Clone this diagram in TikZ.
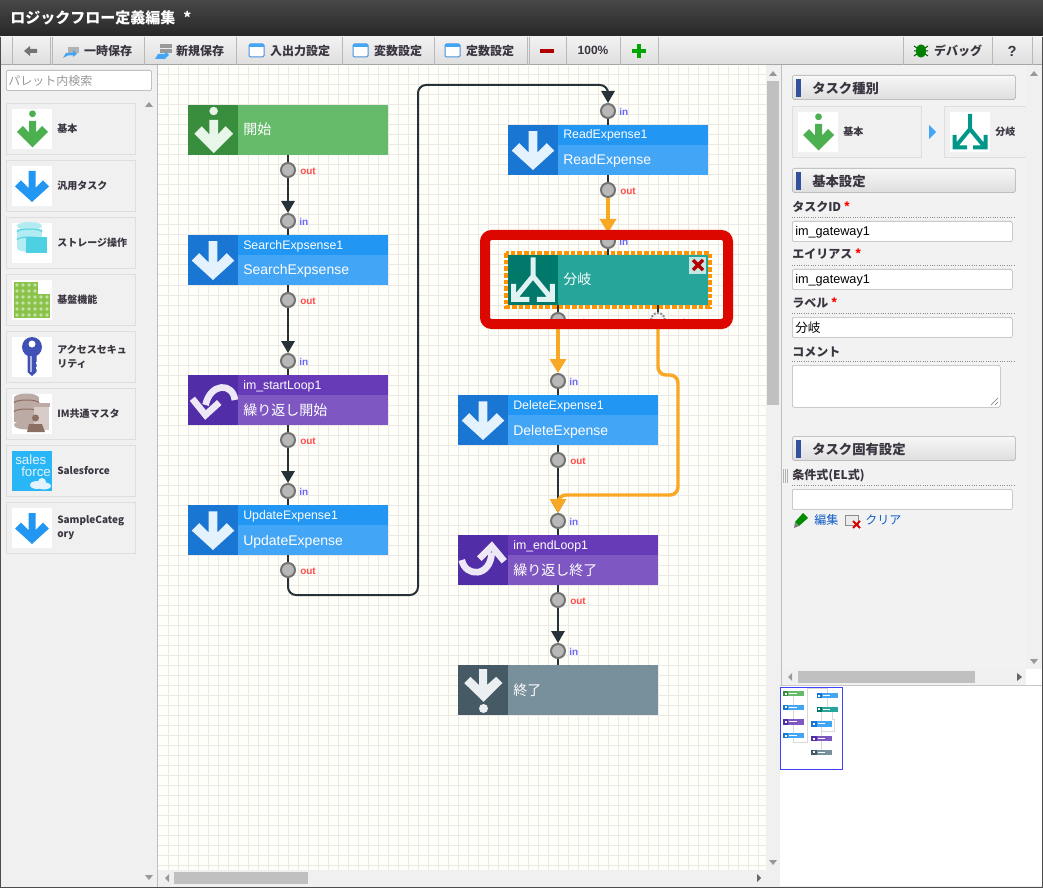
\documentclass[tikz,border=0pt]{standalone}
\usepackage{fontspec}
\setmainfont{Liberation Sans}
\newfontfamily\cjk{Noto Sans CJK JP}
\usetikzlibrary{arrows.meta}

\definecolor{flowdark}{HTML}{263238}
\definecolor{floworange}{HTML}{F9A825}
\definecolor{framered}{HTML}{DC0800}
\definecolor{gridgray}{HTML}{ECE8E6}
\definecolor{panelgray}{HTML}{F0F0F0}
\definecolor{inkgray}{HTML}{3A3540}
\definecolor{thumbgray}{HTML}{C0C0C0}
\definecolor{linkblue}{HTML}{0F5CC8}
\definecolor{greenA}{HTML}{388E3C}
\definecolor{greenB}{HTML}{66BB6A}
\definecolor{greenC}{HTML}{4CAF50}
\definecolor{greenT}{HTML}{E8F5E9}
\definecolor{blueA}{HTML}{1976D2}
\definecolor{blueB}{HTML}{2196F3}
\definecolor{blueC}{HTML}{42A5F5}
\definecolor{blueT}{HTML}{E3F2FD}
\definecolor{purpleA}{HTML}{512DA8}
\definecolor{purpleB}{HTML}{673AB7}
\definecolor{purpleC}{HTML}{7E57C2}
\definecolor{purpleT}{HTML}{EDE7F6}
\definecolor{tealA}{HTML}{00796B}
\definecolor{tealB}{HTML}{26A69A}
\definecolor{tealC}{HTML}{009688}
\definecolor{tealT}{HTML}{E0F2F1}
\definecolor{slateA}{HTML}{455A64}
\definecolor{slateB}{HTML}{78909C}
\definecolor{slateT}{HTML}{ECEFF1}
\definecolor{limeA}{HTML}{8BC34A}
\definecolor{limeT}{HTML}{C5E1A5}
\definecolor{keyblue}{HTML}{3F51B5}
\definecolor{skyA}{HTML}{29B6F6}
\definecolor{cyanA}{HTML}{B2EBF2}
\definecolor{cyanB}{HTML}{4DD0E1}
\definecolor{earthA}{HTML}{BCAAA4}
\definecolor{earthB}{HTML}{8D6E63}
\definecolor{earthC}{HTML}{D7CCC8}
\definecolor{barblue}{HTML}{34519C}

\tikzset{
  flowline/.style={draw=flowdark,line width=1.5pt,rounded corners=6pt,-{Triangle[length=9pt,width=10pt]}},
  hotline/.style={draw=floworange,line width=2.6pt,rounded corners=6pt,-{Triangle[length=10.5pt,width=12pt]}},
  stubline/.style={draw=flowdark,line width=1.5pt},
  portdot/.style={circle,draw=black!55,fill=black!28,line width=1.5pt,minimum size=10.5pt,inner sep=0pt},
  inlabel/.style={anchor=west,inner sep=0pt,yshift=-0.5pt,text=blue!60!white,font=\bfseries\fontsize{7.5}{9}\selectfont},
  outlabel/.style={anchor=west,inner sep=0pt,yshift=-0.75pt,text=red!70!white,font=\bfseries\fontsize{7.5}{9}\selectfont},
  headtext/.style={anchor=base west,inner sep=0pt,text=white,font=\fontsize{9.25}{11}\selectfont},
  bodytext/.style={anchor=base west,inner sep=0pt,text=white,font=\fontsize{10.5}{12}\selectfont},
  toolbtn/.style={inner sep=0pt,text=inkgray,font=\cjk\bfseries\fontsize{9}{11}\selectfont},
  palettebox/.style={draw=black!13,fill=panelgray,line width=0.75pt,anchor=north west,minimum width=96.75pt,minimum height=38.25pt,inner sep=0pt},
  iconbox/.style={fill=white,anchor=north west,minimum size=30pt,inner sep=0pt},
  palettetext/.style={anchor=west,align=left,inner sep=0pt,text=inkgray,font=\cjk\bfseries\fontsize{7.5}{10.5}\selectfont},
  sectionbar/.style={anchor=north west,draw=black!33,rounded corners=2pt,top color=white!97!black,bottom color=black!13,minimum width=167.5pt,minimum height=18.25pt,inner sep=0pt},
  formlabel/.style={anchor=west,inner sep=0pt,text=inkgray,font=\cjk\bfseries\fontsize{9}{11}\selectfont},
  formfield/.style={anchor=north west,draw=black!30,fill=white,rounded corners=1.5pt,minimum width=165pt,minimum height=15.25pt,inner sep=0pt},
  fieldtext/.style={anchor=west,inner sep=0pt,text=black,font=\fontsize{9.5}{11}\selectfont},
  dotrule/.style={draw=black!45,line width=0.75pt,densely dotted},
  scrollthumb/.style={fill=thumbgray},
  scrollarrow/.style={fill=black!40}
}

% arrow icons, drawn in a 40 by 40 box
\newcommand{\icondown}[4]{\fill[#4,shift={(#1,#2)},scale=#3] (16.5,5) -- (23.5,5) -- (23.5,22) -- (31,14.5) -- (37,20.5) -- (20,36) -- (3,20.5) -- (9,14.5) -- (16.5,22) -- cycle;}
\newcommand{\iconbase}[4]{\fill[#4,shift={(#1,#2)},scale=#3] (17,12) -- (24,12) -- (24,23.5) -- (30,17) -- (36,23) -- (20.5,38.5) -- (5,23) -- (11,17) -- (17,23.5) -- cycle (20.5,4.8) circle (3.4);}
\newcommand{\iconfinish}[4]{\fill[#4,shift={(#1,#2)},scale=#3] (16.8,3.2) -- (23.2,3.2) -- (23.2,16) -- (30.5,9.5) -- (35.5,14.5) -- (20.4,29.4) -- (5,14.5) -- (10,9.5) -- (16.8,16) -- cycle (20.4,34.8) circle (3.6);}
\newcommand{\icongate}[4]{\draw[#4,shift={(#1,#2)},scale=#3,line width=#3*3pt] (20,2) -- (20,17) -- (6,34) (20,17) -- (34,34) (4.5,23) -- (4.5,35.5) -- (17,35.5) (35.5,23) -- (35.5,35.5) -- (23,35.5);}
\newcommand{\iconback}[4]{\draw[#4,shift={(#1,#2)},scale=#3,line width=#3*4pt] (37.5,20) .. controls (36,6) and (18,6) .. (14,24) (3.5,19) -- (14,32) -- (25,22);}
\newcommand{\iconfwd}[4]{\draw[#4,shift={(#1,#2)},scale=#3,line width=#3*4pt] (3,20) .. controls (6,34) and (26,34) .. (27,14) (17,19) -- (27,9) -- (37,21);}

% task with id bar
\newcommand{\taskblock}[8]{
  \node [minimum width=150pt,minimum height=37.5pt,inner sep=0pt,fill=#6] (#1) at (#2+100,#3+25) {};
  \node [anchor=north west,minimum width=112.5pt,minimum height=15pt,inner sep=0pt,fill=#5] (#1Bar) at (#2+50,#3) {};
  \node [anchor=north west,minimum size=37.5pt,inner sep=0pt,fill=#4] (#1Icon) at (#2,#3) {};
  \node [headtext] (#1Id) at (#2+55,#3+14) {#7};
  \node [bodytext] (#1Text) at (#2+55,#3+40) {#8};
}
% task without id bar
\newcommand{\plainblock}[6]{
  \node [minimum width=150pt,minimum height=37.5pt,inner sep=0pt,fill=#5] (#1) at (#2+100,#3+25) {};
  \node [anchor=north west,minimum size=37.5pt,inner sep=0pt,fill=#4] (#1Icon) at (#2,#3) {};
  \node [bodytext] (#1Text) at (#2+55,#3+30) {#6};
}
\newcommand{\paletteitem}[3]{
  \node [palettebox] (#1Box) at (6,#2) {};
  \node [iconbox] (#1Icon) at (12,#2+6) {};
  \node [palettetext] (#1Text) at (57,#2+26) {#3};
}
\newcommand{\miniblock}[4]{
  \fill [#4] (#1,#2) rectangle (#1+200,#2+50);
  \fill [#3] (#1,#2) rectangle (#1+50,#2+50);
  \fill [white] (#1+15,#2+15) rectangle (#1+35,#2+35);
  \fill [white] (#1+60,#2+18) rectangle (#1+130,#2+26);
}

\begin{document}
\begin{tikzpicture}[x=0.75pt,y=-0.75pt]
\useasboundingbox (0,0) rectangle (1043,888);
\fill [panelgray] (0,0) rectangle (1043,888);

% title bar and toolbar
\shade [top color=black!72,bottom color=black!85] (0,0) rectangle (1043,37);
\node [anchor=west,inner sep=0pt,text=white,font=\cjk\bfseries\fontsize{11.25}{13}\selectfont] (titleText) at (10,18) {ロジックフロー定義編集\hspace{6pt}*};
\shade [top color=black!5,bottom color=black!13] (0,37) rectangle (1043,65);
\draw [black!35,line width=0.75pt] (0,65) -- (1043,65);
\foreach \sx in {12,50,52,144,236,342,434,527,529,566,620,658,903,992,1032}
  \draw [black!28,line width=0.75pt] (\sx,37) -- (\sx,65);
\fill [black!55] (24,51) -- (30,46) -- (30,49) -- (37,49) -- (37,53) -- (30,53) -- (30,56) -- cycle;
\fill [black!30] (68,47) rectangle (79,53);
\fill [blueC] (63,58) -- (66,53) -- (73,53) -- (73,50) -- (77,54) -- (73,57) -- (73,55.5) -- (68,55.5) -- cycle;
\node [toolbtn] (tempSave) at (108,51) {一時保存};
\fill [black!40] (160,44) rectangle (172,48);
\fill [black!40] (160,49) rectangle (172,53);
\fill [blueC] (155,59) -- (158,54) -- (165,54) -- (165,51) -- (169,55) -- (165,59) -- cycle;
\node [toolbtn] (newSave) at (200,51) {新規保存};
\foreach \sx in {249,353,445}{
  \draw [blueA!80,fill=white,line width=0.75pt,rounded corners=1pt] (\sx,44) rectangle (\sx+15,57);
  \fill [blueC] (\sx,44) rectangle (\sx+15,47);
}
\node [toolbtn] (ioSetting) at (300,51) {入出力設定};
\node [toolbtn] (varSetting) at (398,51) {変数設定};
\node [toolbtn] (constSetting) at (490,51) {定数設定};
\fill [red!70!black] (540,49) rectangle (554,53);
\node [toolbtn,font=\bfseries\fontsize{9}{11}\selectfont] (zoomRate) at (593,50) {100\%};
\fill [green!65!black] (637,44) rectangle (641,58);
\fill [green!65!black] (632,49) rectangle (646,53);
\draw [green!35!black,line width=0.75pt] (914,46) -- (928,56) (928,46) -- (914,56) (914,51) -- (928,51);
\fill [green!50!black] (921,51) ellipse (5 and 6.5);
\node [toolbtn] (debugBtn) at (958,51) {デバッグ};
\node [toolbtn,font=\bfseries\fontsize{11}{13}\selectfont] (helpBtn) at (1012,51) {?};

% left palette
\draw [black!25,line width=1pt] (157.5,65) -- (157.5,888);
\node [anchor=north west,draw=black!35,fill=white,rounded corners=1.5pt,minimum width=109pt,minimum height=15.25pt,inner sep=0pt] (searchBox) at (6,70) {};
\node [anchor=west,inner sep=0pt,text=black!40,font=\cjk\fontsize{9}{11}\selectfont] (searchText) at (8,80.5) {パレット内検索};
\paletteitem{palBase}{103}{基本}
\paletteitem{palTask}{160}{汎用タスク}
\paletteitem{palStore}{217}{ストレージ操作}
\paletteitem{palCore}{274}{基盤機能}
\paletteitem{palKey}{331}{アクセスセキュ\\リティ}
\paletteitem{palMaster}{388}{IM共通マスタ}
\paletteitem{palForce}{445}{Salesforce}
\paletteitem{palSample}{502}{SampleCateg\\ory}
\iconbase{12}{109}{1}{greenC}
\icondown{12}{166}{1}{blueB}
% storage
\fill [cyanA] (17,229) rectangle (42,248);
\fill [cyanA] (29.5,226) ellipse (12.5 and 4);
\fill [cyanA] (29.5,248) ellipse (12.5 and 4);
\draw [cyanB,line width=0.75pt] (17,232) arc [start angle=180,end angle=360,x radius=12.5,y radius=3];
\draw [cyanB,line width=0.75pt] (17,240) arc [start angle=180,end angle=360,x radius=12.5,y radius=3];
\fill [cyanB] (26,237) rectangle (47,253);
% base grid
\fill [limeA] (14,282) rectangle (38,294);
\fill [limeA] (14,294) rectangle (50,318);
\foreach \gx in {17,23,29,35}\foreach \gy in {285,291,297,303,309,315}
  \fill [limeT] (\gx,\gy) circle (1.8);
\foreach \gx in {41,47}\foreach \gy in {297,303,309,315}
  \fill [limeT] (\gx,\gy) circle (1.8);
% key
\fill [keyblue] (27.5,347) rectangle (36.5,372) -- (32,376) -- (27.5,372) -- cycle;
\fill [keyblue] (32,347) circle (10);
\fill [white] (32,344) circle (3.5);
\fill [keyblue!40!white] (30,356) rectangle (32,372);
\fill [white] (36,362) rectangle (37,364) (36,367) rectangle (37,369);
% master
\fill [earthA] (14,397) rectangle (39,422);
\foreach \gy in {398,407,416,425}
  \fill [earthA] (26.5,\gy) ellipse (12.5 and 4.5);
\draw [earthB,line width=0.75pt] (14,403) arc [start angle=180,end angle=360,x radius=12.5,y radius=3];
\draw [earthB,line width=0.75pt] (14,412) arc [start angle=180,end angle=360,x radius=12.5,y radius=3];
\fill [earthC] (34,404) rectangle (49,430);
\fill [earthA] (33,403) rectangle (50,407);
\fill [earthB] (35.5,418) circle (3.5);
\fill [earthB] (27,432) -- (29,424) -- (42,424) -- (45,432) -- cycle;
% salesforce
\fill [skyA] (12,451) rectangle (52,491);
\node [anchor=west,inner sep=0pt,text=blueT,font=\fontsize{10}{11}\selectfont] (sfSales) at (15,460) {sales};
\node [anchor=west,inner sep=0pt,text=blueT,font=\fontsize{10}{11}\selectfont] (sfForce) at (21,472) {force};
\fill [blueT] (37,485) ellipse (7 and 4) (44,486) ellipse (7 and 3.5) (42,482) circle (4);
\icondown{12}{508}{1}{blueB}
\fill [black!40] (149,102) -- (145,107) -- (153,107) -- cycle;
\fill [black!40] (149,880) -- (145,875) -- (153,875) -- cycle;

% flow canvas
\fill [white!98!yellow] (158,65) rectangle (766,870);
\foreach \gx in {168,178,...,758}
  \draw [gridgray,line width=0.75pt] (\gx,66) -- (\gx,870);
\foreach \gy in {75,85,...,865}
  \draw [gridgray,line width=0.75pt] (158,\gy) -- (766,\gy);
\fill [panelgray] (766,65) rectangle (780,870);
\fill [panelgray] (158,870) rectangle (780,887);
\fill [scrollthumb] (767,81) rectangle (779,405);
\fill [scrollthumb] (174,872) rectangle (308,884);
\fill [scrollarrow] (773,71) -- (769,76) -- (777,76) -- cycle;
\fill [scrollarrow] (773,865) -- (769,860) -- (777,860) -- cycle;
\fill [scrollarrow] (165,878) -- (169,874) -- (169,882) -- cycle;
\fill [black!60] (761,878) -- (757,874) -- (757,882) -- cycle;

% tasks
\plainblock{start}{188}{105}{greenA}{greenB}{\cjk 開始}
\taskblock{search}{188}{235}{blueA}{blueB}{blueC}{SearchExpsense1}{SearchExpsense}
\taskblock{loopStart}{188}{375}{purpleA}{purpleB}{purpleC}{im\_startLoop1}{\cjk 繰り返し開始}
\taskblock{update}{188}{505}{blueA}{blueB}{blueC}{UpdateExpense1}{UpdateExpense}
\taskblock{read}{508}{125}{blueA}{blueB}{blueC}{ReadExpense1}{ReadExpense}
\draw [orange!85!yellow,line width=3pt,dash pattern=on 3.6pt off 1.4pt] (506,253) rectangle (710,307);
\plainblock{gate}{508}{255}{tealA}{tealB}{\cjk 分岐}
\taskblock{delete}{458}{395}{blueA}{blueB}{blueC}{DeleteExpense1}{DeleteExpense}
\taskblock{loopEnd}{458}{535}{purpleA}{purpleB}{purpleC}{im\_endLoop1}{\cjk 繰り返し終了}
\plainblock{finish}{458}{665}{slateA}{slateB}{\cjk 終了}

\iconbase{188}{105}{1.25}{greenT}
\icondown{188}{235}{1.25}{blueT}
\iconback{188}{375}{1.25}{purpleT}
\icondown{188}{505}{1.25}{blueT}
\icondown{508}{125}{1.25}{blueT}
\icongate{508}{255}{1.25}{tealT}
\icondown{458}{395}{1.25}{blueT}
\iconfwd{458}{535}{1.25}{purpleT}
\iconfinish{458}{665}{1.25}{slateT}
\node [anchor=north west,minimum width=12.75pt,minimum height=12.75pt,inner sep=0pt,fill=tealT!85!tealB] (gateClose) at (689,257) {};
\draw [red!70!black,line width=2.6pt] (693,260) -- (703,270) (703,260) -- (693,270);

% ports
\node [portdot] (startOut) at (288,170) {};
\node [outlabel] (startOutL) at (300,170) {out};
\node [portdot] (searchIn) at (288,221) {};
\node [inlabel] (searchInL) at (299,221) {in};
\node [portdot] (searchOut) at (288,300) {};
\node [outlabel] (searchOutL) at (300,300) {out};
\node [portdot] (loopStartIn) at (288,361) {};
\node [inlabel] (loopStartInL) at (299,361) {in};
\node [portdot] (loopStartOut) at (288,440) {};
\node [outlabel] (loopStartOutL) at (300,440) {out};
\node [portdot] (updateIn) at (288,491) {};
\node [inlabel] (updateInL) at (299,491) {in};
\node [portdot] (updateOut) at (288,570) {};
\node [outlabel] (updateOutL) at (300,570) {out};
\node [portdot] (readIn) at (608,111) {};
\node [inlabel] (readInL) at (619,111) {in};
\node [portdot] (readOut) at (608,190) {};
\node [outlabel] (readOutL) at (620,190) {out};
\node [portdot] (gateIn) at (608,241) {};
\node [inlabel] (gateInL) at (619,241) {in};
\node [portdot] (gateOutA) at (558,320) {};
\node [outlabel] (gateOutAL) at (570,321) {out};
\node [portdot,draw=black!45,densely dotted,fill=white!95!black] (gateOutB) at (658,320) {};
\node [outlabel] (gateOutBL) at (670,321) {out};
\node [portdot] (deleteIn) at (558,381) {};
\node [inlabel] (deleteInL) at (569,381) {in};
\node [portdot] (deleteOut) at (558,460) {};
\node [outlabel] (deleteOutL) at (570,460) {out};
\node [portdot] (loopEndIn) at (558,521) {};
\node [inlabel] (loopEndInL) at (569,521) {in};
\node [portdot] (loopEndOut) at (558,600) {};
\node [outlabel] (loopEndOutL) at (570,600) {out};
\node [portdot] (finishIn) at (558,651) {};
\node [inlabel] (finishInL) at (569,651) {in};

% stubs between tasks and ports
\draw [stubline] (start) -- (startOut);
\draw [stubline] (search) -- (searchIn);
\draw [stubline] (search) -- (searchOut);
\draw [stubline] (loopStart) -- (loopStartIn);
\draw [stubline] (loopStart) -- (loopStartOut);
\draw [stubline] (update) -- (updateIn);
\draw [stubline] (update) -- (updateOut);
\draw [stubline] (read) -- (readIn);
\draw [stubline] (read) -- (readOut);
\draw [stubline] (gate) -- (gateIn);
\draw [stubline] (delete) -- (deleteIn);
\draw [stubline] (delete) -- (deleteOut);
\draw [stubline] (loopEnd) -- (loopEndIn);
\draw [stubline] (loopEnd) -- (loopEndOut);
\draw [stubline] (finish) -- (finishIn);
\draw [stubline] (gateOutA |- gate.south) -- (gateOutA);
\draw [stubline] (gateOutB |- gate.south) -- (gateOutB);

% connectors
\coordinate (wrapLow) at (418,595);
\coordinate (wrapTop) at (418,85);
\coordinate (sideTop) at (678,375);
\coordinate (sideLow) at (678,495);
\draw [flowline] (startOut) -- (searchIn);
\draw [flowline] (searchOut) -- (loopStartIn);
\draw [flowline] (loopStartOut) -- (updateIn);
\draw [flowline] (updateOut) |- (wrapLow) -- (wrapTop) -| (readIn);
\draw [flowline] (deleteOut) -- (loopEndIn);
\draw [flowline] (loopEndOut) -- (finishIn);
\draw [hotline] (readOut) -- (gateIn);
\draw [hotline] (gateOutA) -- (deleteIn);
\draw [hotline] (gateOutB) |- (sideTop) -- (sideLow) -| (loopEndIn);

% highlight frame
\draw [framered,line width=7.5pt,rounded corners=5pt] (485,235) rectangle (728,324);

% right panel
\fill [white!95!black] (782,65) rectangle (1026,669);
\draw [black!25,line width=1pt] (781.5,65) -- (781.5,685);
\node [sectionbar] (typeBar) at (792,75) {};
\fill [barblue] (796,79) rectangle (801,97);
\node [formlabel,font=\cjk\bfseries\fontsize{10}{12}\selectfont] (typeTitle) at (812,88) {タスク種別};
\node [palettebox] (typeBoxA) at (792,106) {};
\node [iconbox] (typeIconA) at (798,112) {};
\iconbase{798}{112}{1}{greenC}
\node [palettetext] (typeTextA) at (843,132) {基本};
\fill [blueC] (929,125) -- (936,132) -- (929,139) -- cycle;
\node [palettebox,minimum width=61.5pt] (typeBoxB) at (944,106) {};
\node [iconbox] (typeIconB) at (950,112) {};
\icongate{950}{112}{1}{tealC}
\node [palettetext] (typeTextB) at (995,132) {分岐};
\node [sectionbar] (baseBar) at (792,168) {};
\fill [barblue] (796,172) rectangle (801,190);
\node [formlabel,font=\cjk\bfseries\fontsize{10}{12}\selectfont] (baseTitle) at (812,181) {基本設定};

\node [formlabel] (idLabel) at (792,207) {タスクID \textcolor{red}{*}};
\draw [dotrule] (792,217.5) -- (1016,217.5);
\node [formfield] (idField) at (792,221) {};
\node [fieldtext] (idText) at (795,232) {im\_gateway1};
\node [formlabel] (aliasLabel) at (792,254) {エイリアス \textcolor{red}{*}};
\draw [dotrule] (792,265.5) -- (1016,265.5);
\node [formfield] (aliasField) at (792,269) {};
\node [fieldtext] (aliasText) at (795,280) {im\_gateway1};
\node [formlabel] (nameLabel) at (792,303) {ラベル \textcolor{red}{*}};
\draw [dotrule] (792,313.5) -- (1016,313.5);
\node [formfield] (nameField) at (792,317) {};
\node [fieldtext,font=\cjk\fontsize{9.5}{11}\selectfont] (nameText) at (795,327.5) {分岐};
\node [formlabel] (noteLabel) at (792,352) {コメント};
\draw [dotrule] (792,361.5) -- (1016,361.5);
\node [formfield,minimum width=156pt,minimum height=31.5pt] (noteField) at (792,365) {};
\draw [black!55,line width=0.5pt] (991,405) -- (998,398) (995,405) -- (998,402);

\node [sectionbar] (ownBar) at (792,436) {};
\fill [barblue] (796,440) rectangle (801,458);
\node [formlabel,font=\cjk\bfseries\fontsize{10}{12}\selectfont] (ownTitle) at (812,449) {タスク固有設定};
\foreach \sx in {783.5,785.5,787.5}
  \draw [black!30,line width=0.75pt] (\sx,469) -- (\sx,483);
\node [formlabel] (exprLabel) at (792,476) {条件式(EL式)};
\draw [dotrule] (792,485.5) -- (1016,485.5);
\node [formfield] (exprField) at (792,489) {};
\fill [green!55!black] (795,522) -- (803,513) -- (808,518) -- (799,526) -- cycle;
\fill [black!50] (795,522) -- (794,528) -- (799,526) -- cycle;
\node [anchor=west,inner sep=0pt,text=linkblue,font=\cjk\fontsize{9}{11}\selectfont] (editLink) at (814,520) {編集};
\draw [black!45,fill=black!8,line width=0.75pt] (845,515) rectangle (858,525);
\draw [red!85!black,line width=1.5pt] (853,521) -- (860,528) (860,521) -- (853,528);
\node [anchor=west,inner sep=0pt,text=linkblue,font=\cjk\fontsize{9}{11}\selectfont] (clearLink) at (865,520) {クリア};

\fill [panelgray] (1026,65) rectangle (1043,669);
\fill [white] (1026,669) rectangle (1043,685);
\fill [panelgray] (782,669) rectangle (1026,685);
\fill [scrollthumb] (798,671) rectangle (975,683);
\fill [scrollarrow] (788,677) -- (792,673) -- (792,681) -- cycle;
\fill [black!60] (1022,677) -- (1017,673) -- (1017,681) -- cycle;
\fill [scrollarrow] (1034,71) -- (1030,76) -- (1038,76) -- cycle;
\fill [scrollarrow] (1034,664) -- (1030,659) -- (1038,659) -- cycle;

% overview
\fill [white] (780,686) rectangle (1043,886);
\draw [black!22,line width=1pt] (780,685.5) -- (1043,685.5);
\begin{scope}[shift={(763.26,679.975)},scale=0.105]
\draw [black!15,line width=0.75pt] (288,155) -- (288,505) (288,555) -- (288,595) -- (418,595) -- (418,85) -- (608,85) -- (608,125) (608,175) -- (608,255) (558,305) -- (558,665) (658,305) -- (658,375) -- (678,375) -- (678,495) -- (558,495);
\miniblock{188}{105}{greenA}{greenB}
\miniblock{188}{235}{blueA}{blueC}
\miniblock{188}{375}{purpleA}{purpleC}
\miniblock{188}{505}{blueA}{blueC}
\miniblock{508}{125}{blueA}{blueC}
\miniblock{508}{255}{tealA}{tealB}
\miniblock{458}{395}{blueA}{blueC}
\miniblock{458}{535}{purpleA}{purpleC}
\miniblock{458}{665}{slateA}{slateB}
\end{scope}
\draw [blue!75!white,line width=0.75pt] (780.5,687.5) rectangle (842.5,769.5);

\draw [black!70,line width=0.75pt] (0.5,37) -- (0.5,887.5) -- (1042.5,887.5) -- (1042.5,37);
\end{tikzpicture}
\end{document}
